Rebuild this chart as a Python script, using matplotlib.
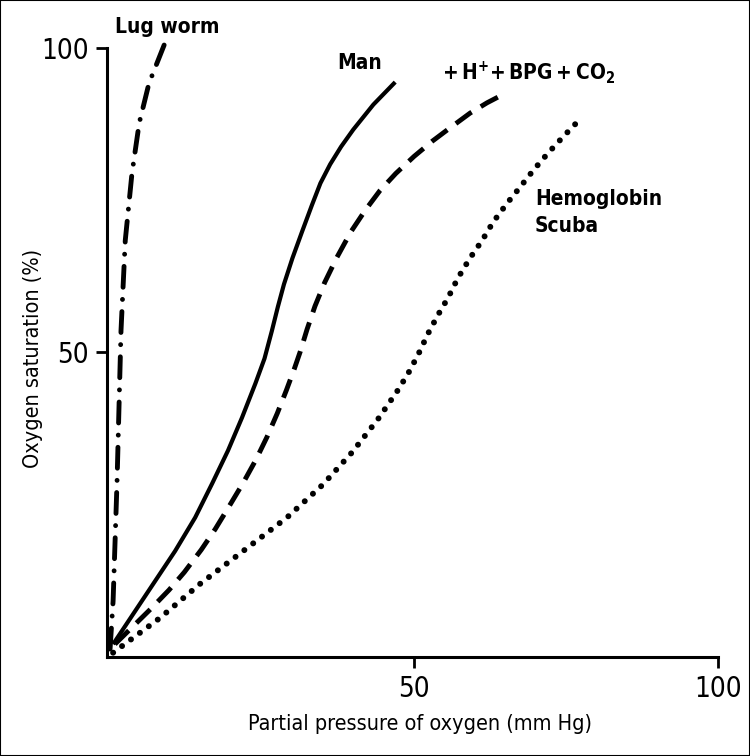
import matplotlib
matplotlib.use("Agg")
import matplotlib.pyplot as plt
from matplotlib.patches import Rectangle

plt.rcParams['font.family'] = ['DejaVu Sans']
plt.rcParams['font.stretch'] = 'condensed'
plt.rcParams['mathtext.default'] = 'regular'

# Oxygen dissociation curves
lug_x = [0.0, 0.5, 1.15, 1.8, 2.5, 3.6, 4.8, 6.4, 8.9]
lug_y = [1.3, 9.2, 28.9, 53.6, 68.4, 79.4, 87.7, 94.2, 100.5]

man_x = [0.5, 7.1, 10.7, 14.0, 16.8, 19.4, 21.7, 23.9, 25.4, 26.6, 27.6, 28.6, 30.0,
         31.6, 33.2, 34.6, 36.2, 38.0, 40.0, 43.3, 46.9]
man_y = [2.1, 12.0, 17.4, 22.9, 28.5, 33.9, 39.3, 44.9, 49.0, 53.5, 57.5, 61.2, 65.5,
         69.9, 74.2, 77.8, 80.9, 83.8, 86.6, 90.7, 94.4]

acid_x = [0.8, 6.7, 9.7, 12.2, 15.0, 17.3, 19.5, 21.9, 24.0, 25.8, 27.5, 29.0, 30.3,
          31.3, 32.4, 33.7, 35.3, 37.3, 39.6, 42.0, 44.4, 47.0, 50.0, 53.0, 55.4,
          59.2, 62.0, 64.5]
acid_y = [2.1, 7.9, 11.0, 13.9, 17.6, 21.0, 24.6, 28.6, 32.4, 36.1, 40.0, 43.8, 47.3,
          50.2, 53.8, 57.6, 61.5, 65.6, 69.8, 73.4, 76.6, 79.4, 82.2, 84.7, 86.5,
          89.3, 91.0, 92.3]

scuba_x = [0.5, 8.2, 14.8, 21.9, 29.1, 35.0, 39.8, 44.1, 47.2, 49.0, 50.7, 52.3, 53.9,
           55.6, 57.2, 59.2, 61.2, 63.0, 65.3, 67.4, 69.6, 72.0, 74.5, 76.8]
scuba_y = [0.7, 6.4, 12.0, 17.4, 22.9, 28.3, 33.6, 39.1, 43.6, 46.5, 49.7, 53.1, 56.1,
           59.0, 62.2, 65.5, 68.4, 71.4, 74.5, 77.1, 79.9, 82.7, 85.4, 87.8]

xticks = [50, 100]
yticks = [50, 100]

fig = plt.figure(figsize=(7.5, 7.56), dpi=100)
ax = fig.add_axes([0.1427, 0.131, 0.8147, 0.8055])

ax.plot(lug_x, lug_y, color='black', lw=3.5, linestyle=(0, (4.3, 2.5, 0.01, 2.5)),
        dash_capstyle='round', clip_on=False)
ax.plot(man_x, man_y, color='black', lw=3.0, solid_capstyle='butt', solid_joinstyle='round')
ax.plot(acid_x, acid_y, color='black', lw=3.5, linestyle=(0, (4.0, 2.2)))
ax.plot(scuba_x, scuba_y, color='black', lw=4.3, linestyle=(0, (0.01, 1.85)),
        dash_capstyle='round')

# labels
ax.text(0.8, 103.5, 'Lug worm', fontsize=15, fontweight='bold', va='center', ha='left')
ax.text(41.1, 97.5, 'Man', fontsize=15, fontweight='bold', va='center', ha='center')
ax.text(54.6, 95.9, '+\u2009H$^{+}$+\u2009BPG\u2009+\u2009CO$_{2}$', fontsize=15,
        fontweight='bold', va='center', ha='left')
ax.text(69.9, 73.0, 'Hemoglobin\nScuba', fontsize=15, fontweight='bold',
        va='center', ha='left', linespacing=1.4)

ax.set_xlim(-0.5, 100)
ax.set_ylim(0, 100)
ax.set_xticks(xticks)
ax.set_yticks(yticks)
ax.tick_params(labelsize=20, length=8, width=2, pad=5)
for s in ['top', 'right']:
    ax.spines[s].set_visible(False)
for s in ['left', 'bottom']:
    ax.spines[s].set_linewidth(2.2)

ax.set_xlabel('Partial pressure of oxygen (mm Hg)', fontsize=15.5)
ax.set_ylabel('Oxygen saturation (%)', fontsize=15.5)
ax.xaxis.set_label_coords(0.512, -0.093)
ax.yaxis.set_label_coords(-0.105, 0.49)

# frame round the whole picture
fig.patches.append(Rectangle((0, 0), 1, 1, transform=fig.transFigure, fill=False,
                             edgecolor='black', lw=1.5))

fig.savefig('out.png', dpi=100)
